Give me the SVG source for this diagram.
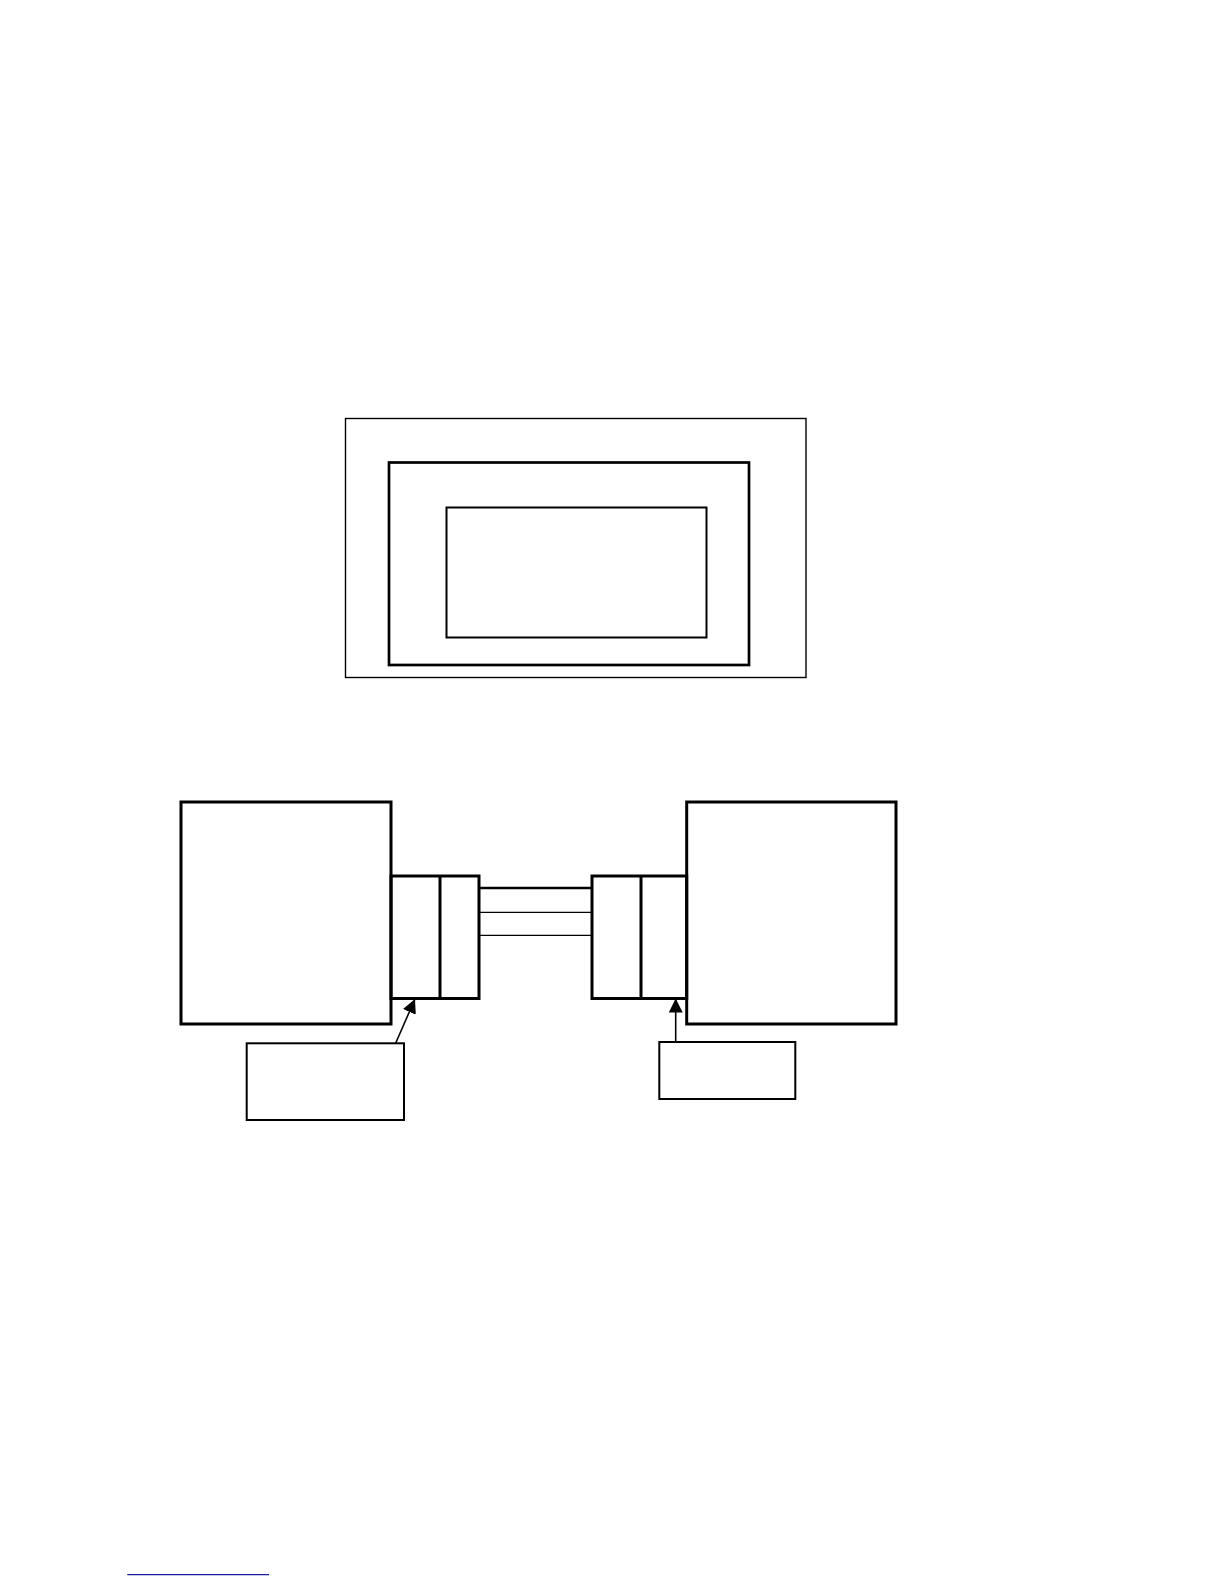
<svg xmlns="http://www.w3.org/2000/svg" width="1224" height="1584" viewBox="0 0 1224 1584">
<style>
.b{fill:none;stroke:#000}
.w3{stroke-width:3}
.w2{stroke-width:2}
</style>
<defs>
<marker id="ah" markerUnits="userSpaceOnUse" markerWidth="16" markerHeight="16" refX="14" refY="7" orient="auto">
<path d="M0,0 L14,7 L0,14 Z" fill="#000"/>
</marker>
</defs>
<rect width="1224" height="1584" fill="#fff"/>
<g id="outer-frame"><rect class="b" x="345.5" y="418.5" width="460.5" height="259" stroke-width="1.4"/></g>
<g id="middle-frame"><rect class="b" x="389" y="462.5" width="360" height="202.5" stroke-width="2.7"/></g>
<g id="inner-frame"><rect class="b w2" x="446.5" y="507.5" width="260" height="130"/></g>
<g id="left-unit"><rect class="b w3" x="181" y="802" width="210" height="222"/></g>
<g id="left-connector"><rect class="b w3" x="391" y="876" width="88" height="122.5"/><line class="b w3" x1="440" y1="876" x2="440" y2="998.5"/></g>
<g id="right-connector"><rect class="b w3" x="592" y="876" width="94.7" height="122.5"/><line class="b w3" x1="641" y1="876" x2="641" y2="998.5"/></g>
<g id="right-unit"><rect class="b w3" x="686.7" y="802" width="209.3" height="222"/></g>
<g id="left-label"><rect class="b w2" x="246.7" y="1043.3" width="157.3" height="76.7"/></g>
<g id="right-label"><rect class="b w2" x="659.3" y="1042" width="136" height="57"/></g>
<g id="connectors">
<line class="b" x1="479" y1="888" x2="592" y2="888" stroke-width="2.5"/>
<line class="b" x1="479" y1="912.3" x2="592" y2="912.3" stroke-width="1.3"/>
<line class="b" x1="479" y1="935.3" x2="592" y2="935.3" stroke-width="1.3"/>
<line class="b" x1="395.7" y1="1043" x2="415" y2="999" stroke-width="1.6" marker-end="url(#ah)"/>
<line class="b" x1="675.7" y1="1042" x2="675.7" y2="998.5" stroke-width="1.6" marker-end="url(#ah)"/>
</g>
<line x1="127.3" y1="1574.7" x2="269" y2="1574.7" stroke="#1a1aa0" stroke-width="1.3"/>
</svg>
